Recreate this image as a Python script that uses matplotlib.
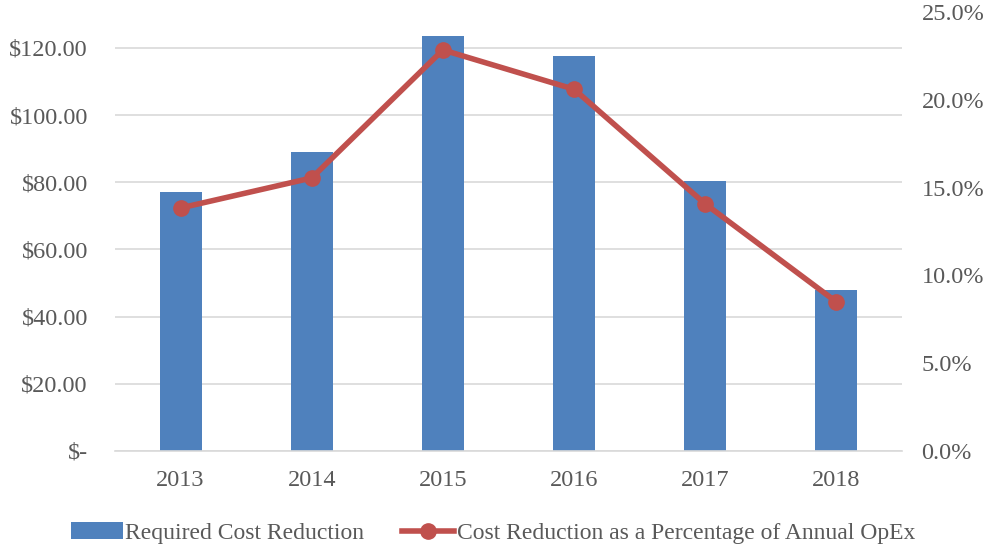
import matplotlib.pyplot as plt
import numpy as np

years = ["2013", "2014", "2015", "2016", "2017", "2018"]
cost_reduction = [77.1, 89.0, 123.6, 117.6, 80.4, 47.9]
pct_opex = [0.1384, 0.1555, 0.2284, 0.2060, 0.1407, 0.0849]

plt.rcParams["font.family"] = ["Liberation Serif", "DejaVu Serif"]
text_color = "#595959"

fig = plt.figure(figsize=(9.86, 5.46), dpi=100)
ax = fig.add_axes([0.1166, 0.174, 0.7982, 0.804])
ax2 = ax.twinx()

x = np.arange(len(years))
bars = ax.bar(x, cost_reduction, width=0.32, color="#4f81bd", zorder=2,
              label="Required Cost Reduction")
line, = ax2.plot(x, pct_opex, color="#c0504d", lw=4, marker="o", ms=11,
                 label="Cost Reduction as a Percentage of Annual OpEx", zorder=3)

ax.set_xlim(-0.5, len(years) - 0.5)
ax.set_ylim(0, 130.7)
ax2.set_ylim(0, 0.25)

ax.set_yticks(range(0, 121, 20))
ax.set_yticklabels(["$-"] + ["${:.2f}".format(v) for v in range(20, 121, 20)])
ax2.set_yticks([0, 0.05, 0.10, 0.15, 0.20, 0.25])
ax2.set_yticklabels(["{:.1f}%".format(v * 100) for v in [0, 0.05, 0.10, 0.15, 0.20, 0.25]])
ax.set_xticks(x)
ax.set_xticklabels(years)

ax.yaxis.grid(True, color="#d9d9d9", lw=1.2, zorder=0)
ax.set_axisbelow(True)
for a in (ax, ax2):
    for s in a.spines.values():
        s.set_visible(False)
    a.tick_params(length=0, labelsize=17.5, colors=text_color)
ax.spines["bottom"].set_visible(True)
ax.spines["bottom"].set_color("#d9d9d9")
ax.spines["bottom"].set_linewidth(1.2)
ax.tick_params(axis="y", pad=19.5)
ax.tick_params(axis="x", pad=14)
ax2.tick_params(axis="y", pad=14)

fig.legend(handles=[bars, line], loc="lower center", bbox_to_anchor=(0.5, -0.035),
           ncol=2, frameon=False, fontsize=17, labelcolor=text_color,
           handlelength=2.2, handletextpad=0.1, columnspacing=1.6)

plt.savefig("out.png")
